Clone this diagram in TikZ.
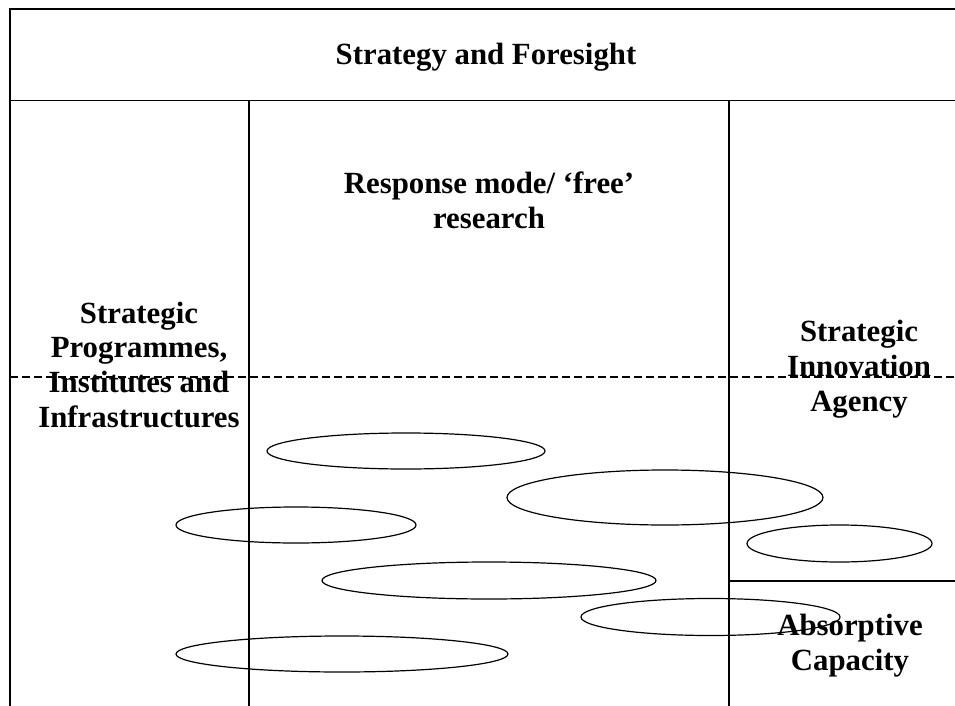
\documentclass[tikz,border=0pt]{standalone}
\usepackage{fontspec}
\setmainfont{Liberation Serif}
\begin{document}
\begin{tikzpicture}[x=1pt,y=-1pt,
  rule/.style={line width=1.5pt},
  divider/.style={line width=1.2pt, dash pattern=on 8pt off 4pt},
  blob/.style={line width=1.2pt},
  label/.style={font=\fontsize{30.8}{34.6}\selectfont\bfseries, align=center, inner sep=0pt, anchor=base}]
\useasboundingbox (0,0) rectangle (955,706);
\fill[white] (0,0) rectangle (955,706);

% frame and column rules
\coordinate (tl) at (10,9);
\coordinate (tr) at (955,9);
\coordinate (bl) at (10,706);
\coordinate (hl) at (10,100.5);
\coordinate (hr) at (955,100.5);
\coordinate (c1t) at (249,100.5);
\coordinate (c1b) at (249,706);
\coordinate (c2t) at (729,100.5);
\coordinate (c2b) at (729,706);
\coordinate (sl) at (729,581);
\coordinate (sr) at (955,581);
\coordinate (dl) at (10,377);
\coordinate (dr) at (955,377);

\draw[rule] (tr) -- (tl) -- (bl);
\draw[rule] (hl) -- (hr);
\draw[rule] (c1t) -- (c1b);
\draw[rule] (c2t) -- (c2b);
\draw[line width=1.2pt] (sl) -- (sr);
\draw[divider] (dl) -- (dr);

% labels (anchored at the baseline of their last line)
\node[label] (foresight) at (486,65) {Strategy and Foresight};
\node[label] (response) at (489,228) {Response mode/ ‘free’\\research};
\node[label] (programmes) at (139,427) {Strategic\\Programmes,\\Institutes and\\Infrastructures};
\node[label] (agency) at (859,411) {Strategic\\Innovation\\Agency};
\node[label] (absorptive) at (850,670) {Absorptive\\Capacity};

% ellipses
\draw[blob] (406,451) ellipse [x radius=139pt, y radius=18pt];
\draw[blob] (665,497.5) ellipse [x radius=158pt, y radius=27.5pt];
\draw[blob] (296,525) ellipse [x radius=120pt, y radius=18pt];
\draw[blob] (839.5,543.5) ellipse [x radius=92.5pt, y radius=18.5pt];
\draw[blob] (489,580.5) ellipse [x radius=167pt, y radius=18.5pt];
\draw[blob] (710.5,617) ellipse [x radius=129.5pt, y radius=18.5pt];
\draw[blob] (342,654) ellipse [x radius=166pt, y radius=18pt];
\end{tikzpicture}
\end{document}
